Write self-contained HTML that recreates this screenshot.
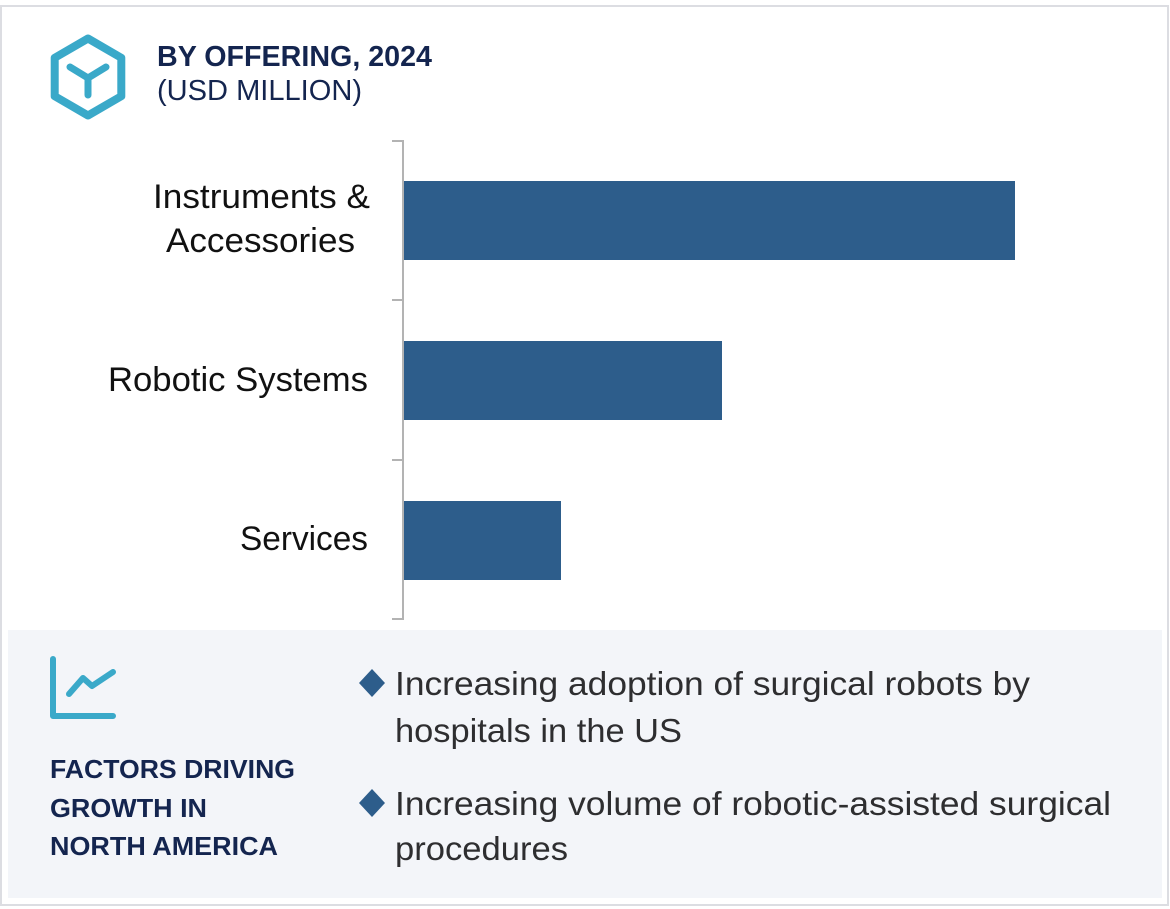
<!DOCTYPE html>
<html>
<head>
<meta charset="utf-8">
<style>
html,body{margin:0;padding:0;background:#fff;}
svg{display:block;}
text{font-family:"Liberation Sans",Arial,sans-serif;}
</style>
</head>
<body>
<svg width="1170" height="909" viewBox="0 0 1170 909" xmlns="http://www.w3.org/2000/svg">
  <rect x="0" y="0" width="1170" height="909" fill="#ffffff"/>
  <!-- outer border -->
  <rect x="1" y="6" width="1167" height="899" fill="none" stroke="#dcdde2" stroke-width="2"/>

  <!-- header icon: hexagon with Y -->
  <polygon points="88,38.5 121.3,57.8 121.3,96.2 88,115.5 54.7,96.2 54.7,57.8" fill="none" stroke="#3aa9c9" stroke-width="8" stroke-linejoin="round"/>
  <path d="M70,67 L88,78 L106,67 M88,78 L88,95" fill="none" stroke="#3aa9c9" stroke-width="7" stroke-linecap="round" stroke-linejoin="round"/>

  <!-- title -->
  <text x="157" y="66" font-size="29" font-weight="bold" fill="#14254f" textLength="275" lengthAdjust="spacingAndGlyphs">BY OFFERING, 2024</text>
  <text x="157" y="100" font-size="29" fill="#14254f" textLength="205" lengthAdjust="spacingAndGlyphs">(USD MILLION)</text>

  <!-- axis -->
  <path d="M392,141 L403,141 L403,619 L392,619 M392,300 L403,300 M392,460 L403,460" fill="none" stroke="#b3b3b3" stroke-width="2"/>

  <!-- bars -->
  <rect x="404" y="181" width="611" height="79" fill="#2d5d8b"/>
  <rect x="404" y="341" width="318" height="79" fill="#2d5d8b"/>
  <rect x="404" y="501" width="157" height="79" fill="#2d5d8b"/>

  <!-- category labels -->
  <text x="153" y="208" font-size="34" fill="#111111" textLength="217" lengthAdjust="spacingAndGlyphs">Instruments &amp;</text>
  <text x="166" y="252" font-size="34" fill="#111111" textLength="189" lengthAdjust="spacingAndGlyphs">Accessories</text>
  <text x="108" y="391" font-size="34" fill="#111111" textLength="260" lengthAdjust="spacingAndGlyphs">Robotic Systems</text>
  <text x="240" y="550" font-size="34" fill="#111111" textLength="128" lengthAdjust="spacingAndGlyphs">Services</text>

  <!-- bottom panel -->
  <rect x="8" y="630" width="1154" height="268" fill="#f3f5f9"/>

  <!-- chart icon -->
  <path d="M53,659 L53,716 L113,716" fill="none" stroke="#3aa9c9" stroke-width="6" stroke-linecap="round" stroke-linejoin="round"/>
  <path d="M69,694 L83,678 L92,686 L113,672" fill="none" stroke="#3aa9c9" stroke-width="6" stroke-linecap="round" stroke-linejoin="round"/>

  <text x="50" y="778" font-size="26" font-weight="bold" fill="#14254f" textLength="245" lengthAdjust="spacingAndGlyphs">FACTORS DRIVING</text>
  <text x="50" y="817" font-size="26" font-weight="bold" fill="#14254f" textLength="157" lengthAdjust="spacingAndGlyphs">GROWTH IN</text>
  <text x="50" y="855" font-size="26" font-weight="bold" fill="#14254f" textLength="228" lengthAdjust="spacingAndGlyphs">NORTH AMERICA</text>

  <!-- bullets -->
  <polygon points="372,669 385,683 372,697 359,683" fill="#2d5d8b"/>
  <polygon points="372,789 385,803 372,817 359,803" fill="#2d5d8b"/>

  <text x="395" y="695" font-size="33" fill="#2e2e30" textLength="635" lengthAdjust="spacingAndGlyphs">Increasing adoption of surgical robots by</text>
  <text x="395" y="742" font-size="33" fill="#2e2e30" textLength="287" lengthAdjust="spacingAndGlyphs">hospitals in the US</text>
  <text x="395" y="815" font-size="33" fill="#2e2e30" textLength="716" lengthAdjust="spacingAndGlyphs">Increasing volume of robotic-assisted surgical</text>
  <text x="395" y="860" font-size="33" fill="#2e2e30" textLength="173" lengthAdjust="spacingAndGlyphs">procedures</text>
</svg>
</body>
</html>
